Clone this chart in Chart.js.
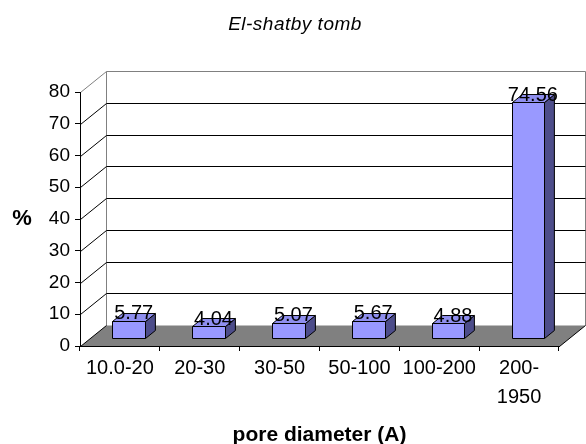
<!DOCTYPE html>
<html>
<head>
<meta charset="utf-8">
<script src="https://cdn.jsdelivr.net/npm/chart.js@4.4.1/dist/chart.umd.min.js"></script>
<style>
  html, body { margin: 0; padding: 0; background: #ffffff; }
  #wrap { width: 586px; height: 444px; }
</style>
</head>
<body>
<div id="wrap"><canvas id="c" width="586" height="444"></canvas></div>
<script>
// Pore size distribution, El-shatby tomb
const chartTitle = 'El-shatby tomb';
const categories = ['10.0-20', '20-30', '30-50', '50-100', '100-200', ['200-', '1950']];
const percentages = [5.77, 4.04, 5.07, 5.67, 4.88, 74.56];
const yTicks = [0, 10, 20, 30, 40, 50, 60, 70, 80];

const FONT = "'Liberation Sans', Arial, sans-serif";

// depth of the box (back wall offset) and where bars sit inside it
const depthX = 26, depthY = -21;
const barFront = 0.34, barBack = 0.72;

const colFront = '#9999FF';
const colTop = '#8F8FEF';
const colSide = '#4D4D8A';
const colFloor = '#808080';
const colWall = '#808080';

function poly(ctx, pts, fill, stroke) {
  ctx.beginPath();
  ctx.moveTo(pts[0][0], pts[0][1]);
  for (let i = 1; i < pts.length; i++) ctx.lineTo(pts[i][0], pts[i][1]);
  ctx.closePath();
  if (fill) { ctx.fillStyle = fill; ctx.fill(); }
  if (stroke) { ctx.strokeStyle = stroke; ctx.lineWidth = 1; ctx.stroke(); }
}

function line(ctx, pts, color) {
  ctx.beginPath();
  ctx.moveTo(pts[0][0], pts[0][1]);
  for (let i = 1; i < pts.length; i++) ctx.lineTo(pts[i][0], pts[i][1]);
  ctx.strokeStyle = color;
  ctx.lineWidth = 1;
  ctx.stroke();
}

const px = v => Math.round(v) + 0.5;

const box3d = {
  id: 'box3d',
  beforeDraw(chart) {
    const { ctx, chartArea: a, scales: { y } } = chart;
    const L = px(a.left), R = px(a.right), T = px(a.top), B = px(a.bottom);
    ctx.save();
    // floor
    poly(ctx, [[L, B], [R, B], [R + depthX, B + depthY], [L + depthX, B + depthY]], colFloor, null);
    // back wall outline
    line(ctx, [[L + depthX, B + depthY], [L + depthX, T + depthY], [R + depthX, T + depthY], [R + depthX, B + depthY]], colWall);
    line(ctx, [[L, T], [L + depthX, T + depthY]], colWall);
    // gridlines on side and back wall
    yTicks.forEach(v => {
      if (v === yTicks[0] || v === yTicks[yTicks.length - 1]) return;
      const p = px(y.getPixelForValue(v));
      line(ctx, [[L, p], [L + depthX, p + depthY], [R + depthX, p + depthY]], '#000000');
    });
    // floor side edges
    line(ctx, [[L, B], [L + depthX, B + depthY]], '#000000');
    line(ctx, [[R, B], [R + depthX, B + depthY]], '#000000');
    ctx.restore();
  },
  afterDatasetsDraw(chart) {
    const { ctx } = chart;
    const meta = chart.getDatasetMeta(0);
    ctx.save();
    const ox = depthX * barFront, oy = depthY * barFront;
    const bx = depthX * (barBack - barFront), by = depthY * (barBack - barFront);
    meta.data.forEach((bar, i) => {
      const w = bar.width;
      const x0 = px(bar.x - w / 2 + ox), x1 = px(bar.x + w / 2 + ox);
      const y0 = px(bar.y + oy), y1 = px(bar.base + oy);
      poly(ctx, [[x1, y1], [x1 + bx, y1 + by], [x1 + bx, y0 + by], [x1, y0]], colSide, '#000000');
      poly(ctx, [[x0, y0], [x1, y0], [x1 + bx, y0 + by], [x0 + bx, y0 + by]], colTop, '#000000');
      poly(ctx, [[x0, y0], [x1, y0], [x1, y1], [x0, y1]], colFront, '#000000');
    });
    // value labels
    ctx.fillStyle = '#000000';
    ctx.font = '20px ' + FONT;
    ctx.textAlign = 'center';
    ctx.textBaseline = 'alphabetic';
    meta.data.forEach((bar, i) => {
      const cx = bar.x + ox + bx / 2;
      ctx.fillText(percentages[i].toFixed(2), cx, bar.y + oy - 1.5);
    });
    ctx.restore();
  },
  afterDraw(chart) {
    const { ctx, chartArea: a } = chart;
    ctx.save();
    ctx.fillStyle = '#000000';
    // chart title
    ctx.font = 'italic 19px ' + FONT;
    ctx.letterSpacing = '0.5px';
    ctx.textAlign = 'center';
    ctx.textBaseline = 'alphabetic';
    ctx.fillText(chartTitle, 295, 30);
    ctx.letterSpacing = '0px';
    // axis titles
    ctx.font = 'bold 22px ' + FONT;
    ctx.textBaseline = 'middle';
    ctx.fillText('%', 22, 219);
    ctx.font = 'bold 21px ' + FONT;
    ctx.textBaseline = 'alphabetic';
    ctx.fillText('pore diameter (A)', (a.left + a.right) / 2, 441);
    ctx.restore();
  }
};

new Chart(document.getElementById('c'), {
  type: 'bar',
  data: {
    labels: categories,
    datasets: [{
      data: percentages,
      backgroundColor: 'rgba(0,0,0,0)',
      borderWidth: 0,
      categoryPercentage: 1,
      barPercentage: 0.41
    }]
  },
  options: {
    responsive: false,
    animation: false,
    devicePixelRatio: 1,
    layout: { padding: { left: 0, right: 27, top: 92, bottom: 0 } },
    plugins: {
      legend: { display: false },
      tooltip: { enabled: false },
      title: { display: false }
    },
    scales: {
      x: {
        offset: true,
        grid: { display: true, drawOnChartArea: false, drawTicks: true, tickLength: 5, color: '#000000', offset: true },
        border: { display: true, color: '#000000', width: 1 },
        ticks: { color: '#000000', font: { family: FONT, size: 20, lineHeight: 1.45 }, padding: 3, maxRotation: 0, autoSkip: false },
        afterFit(s) { s.height = 98; }
      },
      y: {
        min: yTicks[0],
        max: yTicks[yTicks.length - 1],
        grid: { drawOnChartArea: false, drawTicks: true, tickLength: 5, color: '#000000' },
        border: { display: true, color: '#000000', width: 1 },
        ticks: { stepSize: 10, color: '#000000', font: { family: FONT, size: 19 }, padding: 5 },
        afterBuildTicks(s) { s.ticks = yTicks.map(v => ({ value: v })); },
        afterFit(s) { s.width = 80; }
      }
    }
  },
  plugins: [box3d]
});
</script>
</body>
</html>
